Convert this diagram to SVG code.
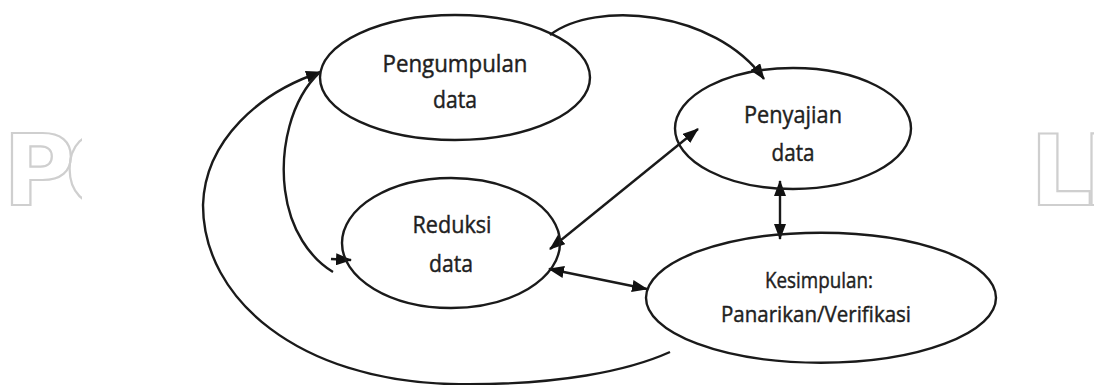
<svg xmlns="http://www.w3.org/2000/svg" width="1094" height="385" viewBox="0 0 1094 385">
  <style>
    .node ellipse { fill: none; stroke: #1a1a1a; stroke-width: 2.4; }
    .node text { font-family: "Open Sans", "Noto Sans", sans-serif; fill: #1f1f1f; stroke: #1f1f1f; stroke-width: 0.45; text-anchor: middle; }
    .conn path, .conn line { fill: none; stroke: #1a1a1a; stroke-width: 2.4; }
    .wm { font-family: "DejaVu Sans", "Liberation Sans", sans-serif; font-weight: bold; font-size: 98px; fill: #ffffff; stroke: #cfcfcf; stroke-width: 2.2; }
  </style>
  <defs>
    <marker id="arr" viewBox="0 0 16 12" refX="15" refY="6" markerWidth="16" markerHeight="12" markerUnits="userSpaceOnUse" orient="auto-start-reverse">
      <path d="M0,0 L16,6 L0,12 Z" fill="#111111"/>
    </marker>
  </defs>
  <rect x="0" y="0" width="1094" height="385" fill="#ffffff"/>
  <g id="watermark">
    <text class="wm" x="3" y="205" letter-spacing="-10">PO</text>
    <text class="wm" x="1030" y="205" letter-spacing="-10">LI</text>
  </g>
  <rect x="82" y="0" width="953" height="385" fill="#ffffff"/>

  <g id="connectors" class="conn">
    <path d="M550,35 C595,0 715,10 764,79" marker-end="url(#arr)"/>
    <path d="M670,352 C630,370 560,386 450,384 C300,380 203,300 203,205 C205,140 260,92 321,72" marker-end="url(#arr)"/>
    <path d="M333,272 C310,258 290,230 285,190 C280,150 290,100 320,72"/>
    <line x1="331" y1="259" x2="351" y2="260" marker-end="url(#arr)"/>
    <line x1="550" y1="249" x2="698" y2="129" marker-start="url(#arr)" marker-end="url(#arr)"/>
    <line x1="549" y1="269" x2="647" y2="289" marker-start="url(#arr)" marker-end="url(#arr)"/>
    <line x1="780" y1="181" x2="780" y2="239" marker-start="url(#arr)" marker-end="url(#arr)"/>
  </g>

  <g id="pengumpulan" class="node">
    <ellipse cx="455" cy="77.5" rx="135" ry="62.5"/>
    <text x="455" y="72" font-size="24.5" textLength="145" lengthAdjust="spacingAndGlyphs">Pengumpulan</text>
    <text x="455" y="108" font-size="24.5" textLength="44" lengthAdjust="spacingAndGlyphs">data</text>
  </g>
  <g id="penyajian" class="node">
    <ellipse cx="793" cy="128.5" rx="118" ry="60.5"/>
    <text x="793" y="123" font-size="23.5" textLength="98" lengthAdjust="spacingAndGlyphs">Penyajian</text>
    <text x="793" y="161" font-size="23.5" textLength="43" lengthAdjust="spacingAndGlyphs">data</text>
  </g>
  <g id="reduksi" class="node">
    <ellipse cx="451" cy="243" rx="109" ry="65"/>
    <text x="452" y="233" font-size="23.5" textLength="79" lengthAdjust="spacingAndGlyphs">Reduksi</text>
    <text x="451" y="272" font-size="23.5" textLength="44" lengthAdjust="spacingAndGlyphs">data</text>
  </g>
  <g id="kesimpulan" class="node">
    <ellipse cx="821" cy="297.7" rx="175" ry="65"/>
    <text x="819" y="288" font-size="22" textLength="108" lengthAdjust="spacingAndGlyphs">Kesimpulan:</text>
    <text x="816" y="322" font-size="22" textLength="190" lengthAdjust="spacingAndGlyphs">Panarikan/Verifikasi</text>
  </g>
</svg>
